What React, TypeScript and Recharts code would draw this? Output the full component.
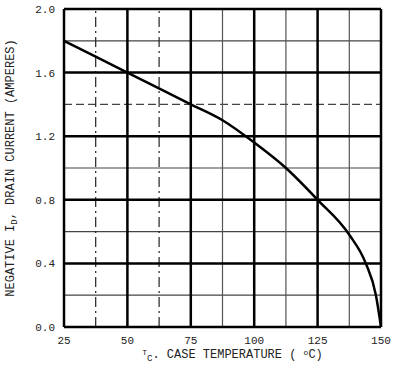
import { LineChart, Line, XAxis, YAxis, ReferenceLine, Label } from 'recharts';

const temps = [25, 50, 75, 87.5, 100, 112.5, 125, 137.5, 144, 148, 150];
const current = [1.8, 1.6, 1.4, 1.3, 1.16, 1.0, 0.8, 0.58, 0.4, 0.2, 0];

const xTicks = [25, 50, 75, 100, 125, 150];
const yTicks = [0, 0.4, 0.8, 1.2, 1.6, 2.0];
const xMinor = [37.5, 62.5, 87.5, 112.5, 137.5];
const yMinor = [0.2, 0.6, 1.0, 1.4, 1.8];
const xDashed = [37.5, 62.5];

const data = temps.map((t, i) => ({ t, id: current[i] }));

const FONT = '"Liberation Mono", "DejaVu Sans Mono", monospace';

function XTitle(props: any) {
  const vb = props.viewBox;
  const cx = vb.x + vb.width / 2 + 10;
  return (
    <text x={cx} y={vb.y + 31} textAnchor="middle" fontFamily={FONT} fontSize={12} fill="#222">
      <tspan fontSize={8} dy={-3}>T</tspan>
      <tspan fontSize={9} dy={6}>C</tspan>
      <tspan dy={-3}>. CASE TEMPERATURE  ( </tspan>
      <tspan fontSize={8} dy={-3}>o</tspan>
      <tspan dy={3}>C)</tspan>
    </text>
  );
}

function YTitle(props: any) {
  const vb = props.viewBox;
  const cy = vb.y + vb.height / 2;
  return (
    <text
      x={11}
      y={cy}
      transform={`rotate(-90, 11, ${cy})`}
      textAnchor="middle"
      dominantBaseline="middle"
      fontFamily={FONT}
      fontSize={12}
      fill="#222"
    >
      <tspan>NEGATIVE I</tspan>
      <tspan fontSize={9} dy={4}>D</tspan>
      <tspan dy={-4}>, DRAIN CURRENT  (AMPERES)</tspan>
    </text>
  );
}

export default function App() {
  return (
    <div style={{ position: 'absolute', left: 0, top: 0, background: '#fff' }}>
      <LineChart width={393} height={366} data={data} margin={{ top: 9, right: 12, bottom: 19, left: 24 }}>
        <XAxis
          dataKey="t"
          type="number"
          domain={[25, 150]}
          ticks={xTicks}
          tickLine={false}
          axisLine={false}
          tick={{ fontFamily: FONT, fontSize: 11, fill: '#222' }}
          tickMargin={3}
          height={20}
          label={<Label content={XTitle} />}
        />
        <YAxis
          type="number"
          domain={[0, 2]}
          ticks={yTicks}
          tickFormatter={(v: number) => v.toFixed(1)}
          tickLine={false}
          axisLine={false}
          tick={{ fontFamily: FONT, fontSize: 11, fill: '#222' }}
          tickMargin={3}
          width={40}
          label={<Label content={YTitle} />}
        />
        {yMinor.map((v) => (
          <ReferenceLine key={'ym' + v} y={v} stroke="#444" strokeWidth={1.2} strokeDasharray={v === 1.4 ? '8 4' : undefined} />
        ))}
        {xMinor.map((v) => (
          <ReferenceLine
            key={'xm' + v}
            x={v}
            stroke={xDashed.includes(v) ? '#222' : '#555'}
            strokeWidth={1.2}
            strokeDasharray={xDashed.includes(v) ? '10 4 2 4' : undefined}
          />
        ))}
        {yTicks.map((v) => (
          <ReferenceLine key={'y' + v} y={v} stroke="#000" strokeWidth={2.5} />
        ))}
        {xTicks.map((v) => (
          <ReferenceLine key={'x' + v} x={v} stroke="#000" strokeWidth={2.5} />
        ))}
        <Line
          type="monotone"
          dataKey="id"
          stroke="#000"
          strokeWidth={2.5}
          dot={false}
          isAnimationActive={false}
        />
      </LineChart>
    </div>
  );
}
